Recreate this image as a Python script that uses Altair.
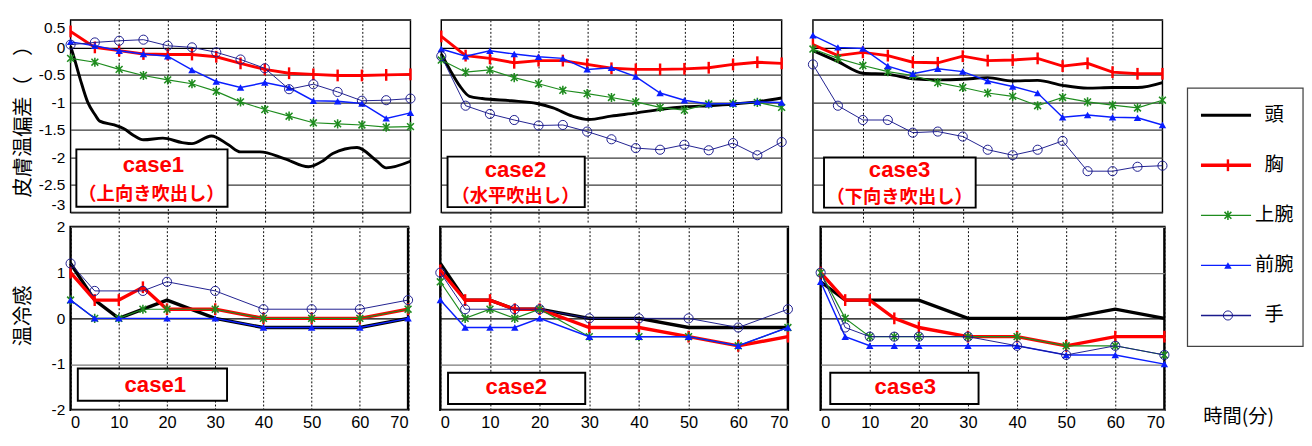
import altair as alt
import pandas as pd

SERIES = ["頭", "胸", "上腕", "前腕", "手"]
COLORS = ["#000000", "#ff0000", "#1e8c1e", "#0a1eff", "#1a1a8c"]
LINE_W = [3, 3, 1.2, 1.5, 1]
CASES = ["case1", "case2", "case3"]
NOTES = ["（上向き吹出し）", "（水平吹出し）", "（下向き吹出し）"]
Y_TOP_TITLE = "皮膚温偏差（　）"
Y_BOT_TITLE = "温冷感"
X_TITLE = "時間(分)"
X_TICKS = [0, 10, 20, 30, 40, 50, 60, 70]
GRID_X = [10, 20, 30, 40, 50, 60]
Y_TOP_TICKS = [-3, -2.5, -2, -1.5, -1, -0.5, 0, 0.5]
Y_BOT_TICKS = [-2, -1, 0, 1, 2]

# ---------- top row: skin temperature deviation ----------
T5 = [0, 5, 10, 15, 20, 25, 30, 35, 40, 45, 50, 55, 60, 65, 70]

C1_HEAD_T = [0, 0.5, 2, 3.5, 5, 6, 9, 11, 13, 15, 19, 23, 25, 29, 32.5, 35, 39, 44, 49, 52, 54, 59, 63, 65, 70]
C1_HEAD = [0.02, -0.12, -0.58, -0.99, -1.22, -1.34, -1.41, -1.48, -1.60, -1.68, -1.65, -1.73, -1.75, -1.61,
           -1.77, -1.90, -1.90, -2.02, -2.17, -2.06, -1.93, -1.82, -2.06, -2.19, -2.07]
C1_CHEST = [0.29, 0.0, -0.06, -0.12, -0.13, -0.13, -0.17, -0.29, -0.40, -0.47, -0.49, -0.51, -0.51, -0.50, -0.49]
C1_UPPER = [-0.20, -0.27, -0.40, -0.51, -0.59, -0.66, -0.80, -0.99, -1.13, -1.25, -1.37, -1.39, -1.41, -1.45, -1.44]
C1_FORE = [0.10, 0.03, -0.06, -0.12, -0.16, -0.41, -0.62, -0.73, -0.64, -0.73, -0.97, -0.98, -1.02, -1.29, -1.19]
C1_HAND = [0.05, 0.09, 0.12, 0.14, 0.03, 0.0, -0.09, -0.22, -0.38, -0.76, -0.67, -0.81, -0.97, -0.96, -0.93]

C2_HEAD_T = [0, 1.8, 3.8, 5.8, 8.4, 14.4, 19.7, 23, 27, 30.3, 34.9, 40.2, 44.9, 50.2, 54.9, 60.1, 64.8, 70]
C2_HEAD = [-0.12, -0.41, -0.70, -0.89, -0.93, -0.97, -1.02, -1.10, -1.25, -1.31, -1.25, -1.19, -1.13, -1.08,
           -1.06, -1.03, -0.99, -0.92]
C2_CHEST = [0.20, -0.15, -0.20, -0.28, -0.24, -0.24, -0.31, -0.38, -0.40, -0.40, -0.39, -0.37, -0.31, -0.27, -0.29]
C2_UPPER = [-0.23, -0.45, -0.41, -0.55, -0.66, -0.78, -0.84, -0.91, -0.99, -1.09, -1.14, -1.03, -1.02, -1.00, -1.09]
C2_FORE = [-0.03, -0.16, -0.06, -0.12, -0.17, -0.20, -0.40, -0.37, -0.53, -0.83, -0.96, -1.03, -1.02, -0.99, -1.00]
C2_HAND = [-0.16, -1.06, -1.21, -1.32, -1.42, -1.41, -1.53, -1.67, -1.83, -1.86, -1.77, -1.87, -1.74, -1.96, -1.72]

C3_HEAD_T = T5
C3_HEAD = [-0.06, -0.26, -0.47, -0.49, -0.57, -0.59, -0.58, -0.55, -0.61, -0.60, -0.69, -0.74, -0.73, -0.73, -0.64]
C3_CHEST = [0.05, -0.15, -0.09, -0.15, -0.27, -0.28, -0.16, -0.24, -0.23, -0.20, -0.34, -0.29, -0.45, -0.48, -0.48]
C3_UPPER = [-0.03, -0.20, -0.33, -0.44, -0.51, -0.64, -0.73, -0.83, -0.89, -1.06, -0.91, -0.99, -1.05, -1.10, -0.96]
C3_FORE = [0.22, 0.0, -0.02, -0.34, -0.48, -0.39, -0.44, -0.61, -0.71, -0.83, -1.27, -1.23, -1.27, -1.28, -1.41]
C3_HAND = [-0.31, -1.06, -1.32, -1.32, -1.55, -1.53, -1.62, -1.86, -1.96, -1.86, -1.70, -2.25, -2.25, -2.17, -2.15]

# ---------- bottom row: thermal sensation ----------
B1_HEAD_T = [0, 5, 10, 20, 30, 40, 50, 60, 70]
B1_HEAD = [1.2, 0.4, 0.0, 0.4, 0.0, -0.2, -0.2, -0.2, 0.0]
B1_CHEST_T = [0, 5, 10, 15, 20, 30, 40, 50, 60, 70]
B1_CHEST = [1.0, 0.4, 0.4, 0.68, 0.2, 0.2, 0.0, 0.0, 0.0, 0.2]
B1_UPPER_T = [0, 5, 10, 15, 20, 30, 40, 50, 60, 70]
B1_UPPER = [0.4, 0.0, 0.0, 0.2, 0.2, 0.2, 0.0, 0.0, 0.0, 0.2]
B1_FORE_T = [0, 5, 10, 20, 30, 40, 50, 60, 70]
B1_FORE = [0.4, 0.0, 0.0, 0.0, 0.0, -0.2, -0.2, -0.2, 0.0]
B1_HAND_T = [0, 5, 15, 20, 30, 40, 50, 60, 70]
B1_HAND = [1.2, 0.6, 0.6, 0.8, 0.6, 0.2, 0.2, 0.2, 0.4]

B2_HEAD_T = [0, 5, 10, 15, 20, 30, 40, 50, 60, 70]
B2_HEAD = [1.2, 0.4, 0.4, 0.2, 0.2, 0.0, 0.0, -0.2, -0.2, -0.2]
B2_CHEST_T = [0, 5, 10, 15, 20, 30, 40, 50, 60, 70]
B2_CHEST = [1.05, 0.4, 0.4, 0.2, 0.2, -0.2, -0.2, -0.4, -0.6, -0.4]
B2_UPPER_T = [0, 5, 10, 15, 20, 30, 40, 50, 60, 70]
B2_UPPER = [0.8, 0.0, 0.2, 0.0, 0.2, -0.4, -0.4, -0.4, -0.6, -0.2]
B2_FORE_T = [0, 5, 10, 15, 20, 30, 40, 50, 60, 70]
B2_FORE = [0.4, -0.2, -0.2, -0.2, 0.0, -0.4, -0.4, -0.4, -0.6, -0.2]
B2_HAND_T = [0, 5, 15, 20, 30, 40, 50, 60, 70]
B2_HAND = [1.0, 0.2, 0.2, 0.2, 0.0, 0.0, 0.0, -0.2, 0.2]

B3_HEAD_T = [0, 5, 10, 20, 30, 40, 50, 60, 70]
B3_HEAD = [0.8, 0.4, 0.4, 0.4, 0.0, 0.0, 0.0, 0.2, 0.0]
B3_CHEST_T = [0, 5, 10, 15, 20, 30, 40, 50, 60, 70]
B3_CHEST = [1.0, 0.4, 0.4, 0.0, -0.2, -0.4, -0.4, -0.6, -0.4, -0.4]
B3_UPPER_T = [0, 5, 10, 15, 20, 30, 40, 50, 60, 70]
B3_UPPER = [1.0, 0.0, -0.4, -0.4, -0.4, -0.4, -0.4, -0.6, -0.6, -0.8]
B3_FORE_T = [0, 5, 10, 15, 20, 30, 40, 50, 60, 70]
B3_FORE = [0.8, -0.4, -0.6, -0.6, -0.6, -0.6, -0.6, -0.8, -0.8, -1.0]
B3_HAND_T = [0, 5, 10, 15, 20, 30, 40, 50, 60, 70]
B3_HAND = [1.0, -0.2, -0.4, -0.4, -0.4, -0.4, -0.6, -0.8, -0.6, -0.8]

rows = []


def add(row, case, series, ts, vs):
    for t, v in zip(ts, vs):
        rows.append({"row": row, "case": case, "series": series, "t": t, "v": v})


add("top", "case1", "頭", C1_HEAD_T, C1_HEAD)
add("top", "case1", "胸", T5, C1_CHEST)
add("top", "case1", "上腕", T5, C1_UPPER)
add("top", "case1", "前腕", T5, C1_FORE)
add("top", "case1", "手", T5, C1_HAND)
add("top", "case2", "頭", C2_HEAD_T, C2_HEAD)
add("top", "case2", "胸", T5, C2_CHEST)
add("top", "case2", "上腕", T5, C2_UPPER)
add("top", "case2", "前腕", T5, C2_FORE)
add("top", "case2", "手", T5, C2_HAND)
add("top", "case3", "頭", C3_HEAD_T, C3_HEAD)
add("top", "case3", "胸", T5, C3_CHEST)
add("top", "case3", "上腕", T5, C3_UPPER)
add("top", "case3", "前腕", T5, C3_FORE)
add("top", "case3", "手", T5, C3_HAND)
add("bot", "case1", "頭", B1_HEAD_T, B1_HEAD)
add("bot", "case1", "胸", B1_CHEST_T, B1_CHEST)
add("bot", "case1", "上腕", B1_UPPER_T, B1_UPPER)
add("bot", "case1", "前腕", B1_FORE_T, B1_FORE)
add("bot", "case1", "手", B1_HAND_T, B1_HAND)
add("bot", "case2", "頭", B2_HEAD_T, B2_HEAD)
add("bot", "case2", "胸", B2_CHEST_T, B2_CHEST)
add("bot", "case2", "上腕", B2_UPPER_T, B2_UPPER)
add("bot", "case2", "前腕", B2_FORE_T, B2_FORE)
add("bot", "case2", "手", B2_HAND_T, B2_HAND)
add("bot", "case3", "頭", B3_HEAD_T, B3_HEAD)
add("bot", "case3", "胸", B3_CHEST_T, B3_CHEST)
add("bot", "case3", "上腕", B3_UPPER_T, B3_UPPER)
add("bot", "case3", "前腕", B3_FORE_T, B3_FORE)
add("bot", "case3", "手", B3_HAND_T, B3_HAND)
DF = pd.DataFrame(rows)

NUM_FONT = "Liberation Sans"
JP_FONT = "Noto Sans CJK JP"
ASTERISK = "M0,-1L0,1M-0.75,-0.75L0.75,0.75M-0.75,0.75L0.75,-0.75"
MARKERS = {
    "胸": dict(shape="M0,-1L0,1", size=150, filled=False, strokeWidth=2.5),
    "上腕": dict(shape=ASTERISK, size=90, filled=False, strokeWidth=1.6),
    "前腕": dict(shape="triangle-up", size=60, filled=True),
    "手": dict(shape="circle", size=90, filled=False, strokeWidth=1),
}
GRID_TOP = {"condition": {"test": "datum.value === 0", "value": "#000000"}, "value": "#3a3a3a"}
GRID_BOT = {"condition": {"test": "datum.value === 0", "value": "#000000"}, "value": "#7a7a7a"}

# panel geometry (styles only)
TOP_W = [353, 353.5, 363]
BOT_W = [350.5, 361, 357]
TOP_H = 200
BOT_H = 190
TOP_BOX = [(6, 163, 134.5, 194, 86, 151, 84, 181.5),
           (6.5, 149, 142, 194.5, 77, 156.5, 77, 183.5),
           (11.5, 169, 143, 195, 90, 156.5, 90, 184.5)]
BOT_BOX = [(7.5, 162.5, 147, 180.5, 88, 164),
           (8, 150.5, 151.5, 184, 79, 167),
           (10, 164, 151.5, 184, 88, 167)]


def panel(row, ci):
    top = row == "top"
    d = DF[(DF["row"] == row) & (DF["case"] == CASES[ci])]
    if top:
        xaxis = alt.Axis(values=GRID_X, labels=False, ticks=True, tickSize=11, tickDash=[2, 2],
                         tickColor="#000", tickWidth=1, domain=False, grid=True, gridDash=[2, 2],
                         gridColor="#000", gridWidth=1, title=None)
        ydom = [-3, 0.5]
        yvals = Y_TOP_TICKS
        gcol = GRID_TOP
    else:
        xaxis = alt.Axis(values=X_TICKS, labels=True, labelFlush=True, labelFontSize=17,
                         labelFont=NUM_FONT, labelColor="#000", labelPadding=5, ticks=False,
                         domain=False, grid=True, gridDash=[2, 2], gridColor="#000", gridWidth=1,
                         title=None)
        ydom = [-2, 2]
        yvals = Y_BOT_TICKS
        gcol = GRID_BOT
    if ci == 0:
        yaxis = alt.Axis(values=yvals, labelExpr="'' + datum.value", labelFontSize=16,
                         labelFont=NUM_FONT, labelColor="#000", labelPadding=6,
                         labelFlush=top, ticks=False, domain=False, grid=True,
                         gridColor=gcol, gridWidth=1.3,
                         title=Y_TOP_TITLE if top else Y_BOT_TITLE,
                         titleFont=JP_FONT, titleFontSize=21, titleFontWeight="normal",
                         titleColor="#000", titleX=-49, titleY=100 if top else 92,
                         titleBaseline="middle", titleAlign="center")
    else:
        yaxis = alt.Axis(values=yvals, labels=False, ticks=False, domain=False, grid=True,
                         gridColor=gcol, gridWidth=1.3, title=None)
    X = alt.X("t:Q", scale=alt.Scale(domain=[0, 70], nice=False, zero=False), axis=xaxis)
    Y = alt.Y("v:Q", scale=alt.Scale(domain=ydom, nice=False, zero=False), axis=yaxis)

    layers = []
    for s, c, w in zip(SERIES, COLORS, LINE_W):
        ds = d[d["series"] == s]
        interp = "monotone" if (top and s == "頭") else "linear"
        lw = w if top or s not in ("頭", "胸") else w + 0.5
        layers.append(alt.Chart(ds).mark_line(color=c, strokeWidth=lw, interpolate=interp)
                      .encode(x=X, y=Y))
        if s in MARKERS:
            layers.append(alt.Chart(ds).mark_point(color=c, opacity=1, **MARKERS[s])
                          .encode(x=X, y=Y))

    one = pd.DataFrame({"k": [0]})
    if top:
        x0, x1, y0, y1, tx, ty, nx, ny = TOP_BOX[ci]
    else:
        x0, x1, y0, y1, tx, ty = BOT_BOX[ci]
    layers.append(alt.Chart(one).mark_rect(fill="white", stroke="#000", strokeWidth=2)
                  .encode(x=alt.value(x0), x2=alt.value(x1), y=alt.value(y0), y2=alt.value(y1)))
    layers.append(alt.Chart(one).mark_text(color="#ff0000", font=NUM_FONT, fontSize=23,
                                           fontWeight="bold", align="center", baseline="middle")
                  .encode(x=alt.value(tx), y=alt.value(ty), text=alt.value(CASES[ci])))
    if top:
        layers.append(alt.Chart(one).mark_text(color="#ff0000", font=JP_FONT, fontSize=19,
                                               fontWeight="bold", align="center", baseline="middle")
                      .encode(x=alt.value(nx), y=alt.value(ny), text=alt.value(NOTES[ci])))
    return alt.layer(*layers).properties(
        width=TOP_W[ci] if top else BOT_W[ci],
        height=TOP_H if top else BOT_H,
        view=alt.ViewBackground(stroke="#000", strokeWidth=1.5 if top else 2.5),
    )


row1 = alt.hconcat(*[panel("top", i) for i in range(3)], spacing=16)
row2 = alt.hconcat(*[panel("bot", i) for i in range(3)], spacing=16)
left = alt.vconcat(row1, row2, spacing=-8)

# ---------- legend panel ----------
leg_df = pd.DataFrame({"series": SERIES})
yleg = alt.Y("series:N", scale=alt.Scale(type="point", domain=SERIES, range=[99, 307], padding=0),
             axis=None)
LEG_W = [3, 3.5, 1.3, 1.5, 1.5]
one = pd.DataFrame({"k": [0]})
leg_layers = [
    alt.Chart(one).mark_rect(fill="white", stroke="#444", strokeWidth=1.3)
    .encode(x=alt.value(0), x2=alt.value(120), y=alt.value(71), y2=alt.value(339))
]
for s, c, w in zip(SERIES, COLORS, LEG_W):
    ds = leg_df[leg_df["series"] == s]
    leg_layers.append(alt.Chart(ds).mark_rule(color=c, strokeWidth=w)
                      .encode(x=alt.value(14), x2=alt.value(66), y=yleg))
    if s in MARKERS:
        leg_layers.append(alt.Chart(ds).mark_point(color=c, opacity=1, **MARKERS[s])
                          .encode(x=alt.value(42), y=yleg))
leg_layers.append(alt.Chart(leg_df).mark_text(font=JP_FONT, fontSize=20, color="#000",
                                              align="center", baseline="middle")
                  .encode(x=alt.value(90), y=yleg, text="series:N"))
leg_layers.append(alt.Chart(one).mark_text(font=JP_FONT, fontSize=20, color="#000",
                                           align="center", baseline="middle")
                  .encode(x=alt.value(53), y=alt.value(413), text=alt.value(X_TITLE)))
legend = alt.layer(*leg_layers).properties(
    width=120, height=400, view=alt.ViewBackground(strokeWidth=0, stroke="transparent"))

chart = alt.hconcat(left, legend, spacing=14).properties(
    padding={"left": 3, "top": 3, "right": 0, "bottom": 0},
    background="white",
).configure(font=NUM_FONT)

chart.save("out.html", embed_options={"renderer": "svg", "actions": False})
